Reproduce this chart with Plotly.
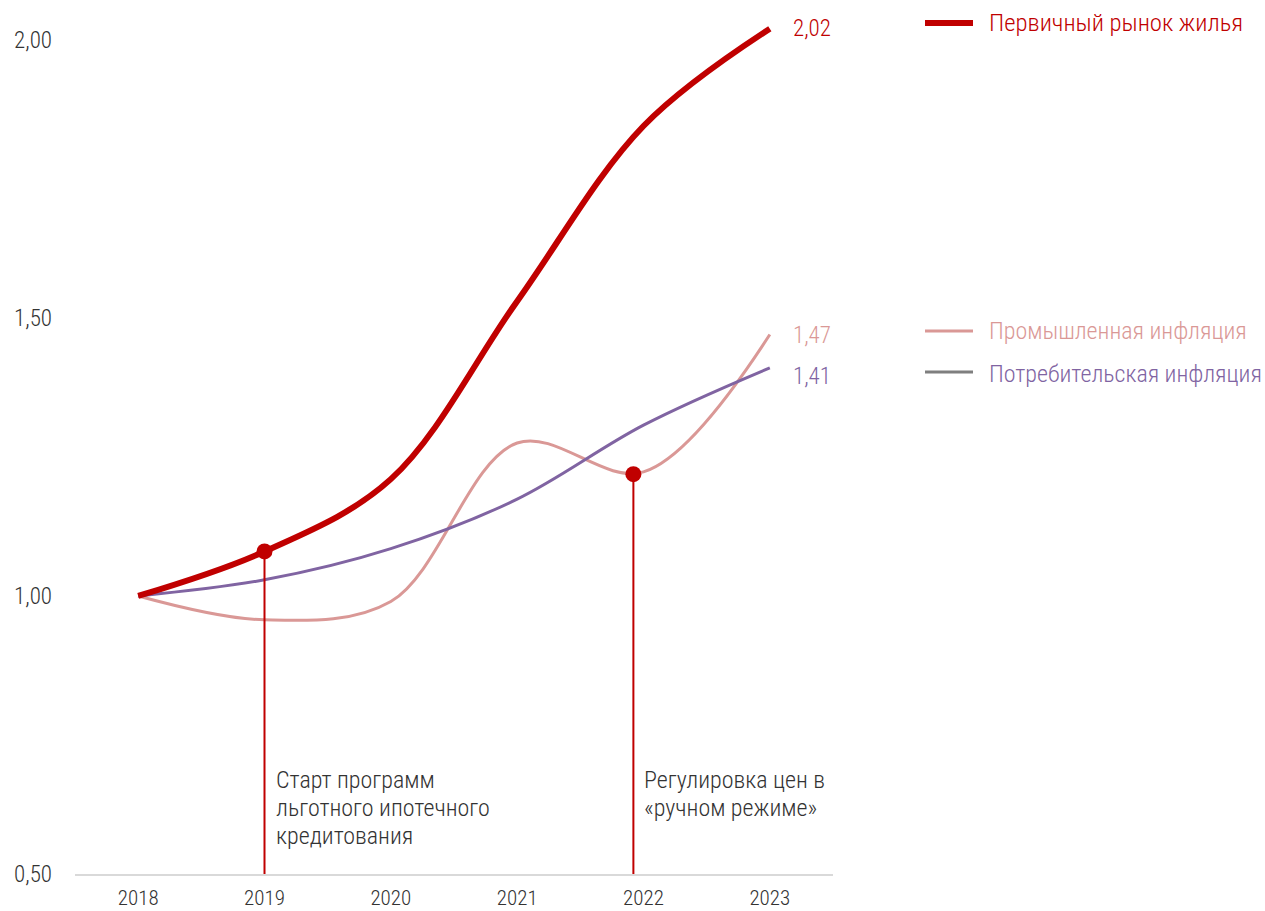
import plotly.graph_objects as go

years = [2018, 2019, 2020, 2021, 2022, 2023]
primary = [1.00, 1.08, 1.21, 1.53, 1.845, 2.02]
industrial = [1.00, 0.957, 0.99, 1.275, 1.223, 1.47]
consumer = [1.00, 1.029, 1.085, 1.174, 1.307, 1.41]

series_names = ["Первичный рынок жилья", "Промышленная инфляция", "Потребительская инфляция"]
end_labels = ["2,02", "1,47", "1,41"]
y_tickvals = [0.5, 1.0, 1.5, 2.0]
y_ticktext = ["0,50", "1,00", "1,50", "2,00"]

event_years = [2019.0, 2021.92]
event_values = [1.08, 1.219]
event_lines = [["Старт программ", "льготного ипотечного", "кредитования"],
               ["Регулировка цен в", "«ручном режиме»"]]

RED = "#C00000"
PINK = "#DA9896"
PURPLE = "#8064A2"
GRAY = "#7F7F7F"
TXT = "#333333"
FONT = "Roboto Condensed, Liberation Sans Narrow, Arial Narrow, Roboto, sans-serif"
WT = 300

W, H = 1265, 911
ML, MR, MT, MB = 75, 432, 12, 37
PW, PH = W - ML - MR, H - MT - MB


def px2paper(px, py):
    return (px - ML) / PW, (H - MB - py) / PH


fig = go.Figure()

fig.add_trace(go.Scatter(x=years, y=industrial, mode="lines", line=dict(color=PINK, width=3, shape="spline"),
                         name=series_names[1], showlegend=False, hoverinfo="skip"))
fig.add_trace(go.Scatter(x=years, y=consumer, mode="lines", line=dict(color=PURPLE, width=3, shape="spline"),
                         name=series_names[2], showlegend=False, hoverinfo="skip"))
fig.add_trace(go.Scatter(x=years, y=primary, mode="lines", line=dict(color=RED, width=6, shape="spline"),
                         name=series_names[0], showlegend=False, hoverinfo="skip"))

# event markers and drop lines
for ey, ev in zip(event_years, event_values):
    fig.add_shape(type="line", xref="x", yref="y", x0=ey, x1=ey, y0=0.5, y1=ev,
                  line=dict(color=RED, width=2), layer="above")
fig.add_trace(go.Scatter(x=event_years, y=event_values, mode="markers",
                         marker=dict(color=RED, size=16), showlegend=False, hoverinfo="skip"))

LINE_STEP = 28
for ey, lines in zip(event_years, event_lines):
    n = len(lines)
    for i, t in enumerate(lines):
        fig.add_annotation(x=ey, y=0.5, xref="x", yref="y", text=t, showarrow=False,
                           xanchor="left", yanchor="middle", align="left", xshift=9,
                           yshift=94 - i * LINE_STEP,
                           font=dict(family=FONT, size=24, color=TXT, weight=WT))

# end labels
end_vals = [primary[-1], industrial[-1], consumer[-1]]
end_cols = [RED, PINK, PURPLE]
end_shift = [0, -1, -9]
for v, lab, c, s in zip(end_vals, end_labels, end_cols, end_shift):
    fig.add_annotation(x=years[-1], y=v, xref="x", yref="y", text=lab, showarrow=False,
                       xanchor="left", yanchor="middle", xshift=21, yshift=s,
                       font=dict(family=FONT, size=23, color=c, weight=WT))

# manual legend
leg = [(series_names[0], RED, RED, 6, 23, 22, 24.7), (series_names[1], PINK, PINK, 3, 331, 331, 24),
       (series_names[2], GRAY, PURPLE, 3, 372, 374, 24)]
for name, lc, tc, lw, ly, ty, fs in leg:
    x0, y0 = px2paper(925, ly)
    x1, _ = px2paper(973, ly)
    fig.add_shape(type="line", xref="paper", yref="paper", x0=x0, x1=x1, y0=y0, y1=y0,
                  line=dict(color=lc, width=lw))
    tx, tyy = px2paper(987, ty)
    fig.add_annotation(x=tx, y=tyy, xref="paper", yref="paper", text=name, showarrow=False,
                       xanchor="left", yanchor="middle", font=dict(family=FONT, size=fs, color=tc, weight=WT))

fig.update_layout(
    width=W, height=H, margin=dict(l=ML, r=MR, t=MT, b=MB, autoexpand=False),
    paper_bgcolor="white", plot_bgcolor="white", showlegend=False,
    font=dict(family=FONT, size=21, color=TXT),
    xaxis=dict(range=[2017.5, 2023.5], tickvals=years, ticktext=[str(y) for y in years],
               showgrid=False, zeroline=False, showline=True, linecolor="#D9D9D9", linewidth=2,
               ticks="", ticklabelstandoff=4, tickfont=dict(family=FONT, size=21, color=TXT, weight=WT)),
    yaxis=dict(range=[0.5, 2.05], tickvals=y_tickvals, ticktext=y_ticktext,
               showgrid=False, zeroline=False, showline=False, ticks="",
               ticklabelstandoff=22, tickfont=dict(family=FONT, size=23, color=TXT, weight=WT)),
)

fig.write_html("out.html")
